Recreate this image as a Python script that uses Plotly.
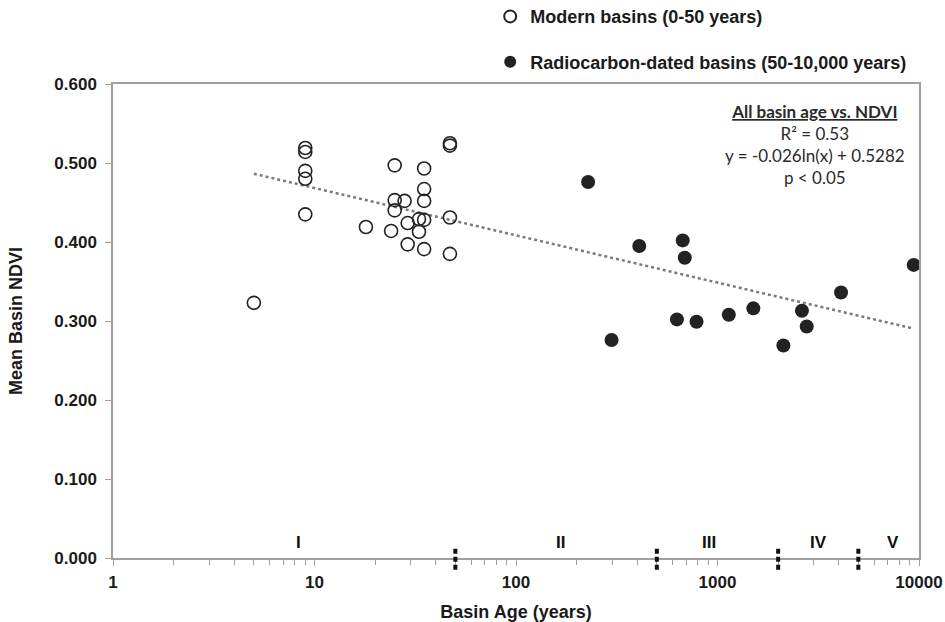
import numpy as np
import plotly.graph_objects as go

# Modern basins (0-50 years) - open circles
modern_age = [5, 9, 9, 9, 9, 9, 18, 25, 25, 25, 24, 28, 29, 29, 33, 33,
              35, 35, 35, 35, 35, 47, 47, 47, 47]
modern_ndvi = [0.323, 0.519, 0.514, 0.490, 0.480, 0.435, 0.419, 0.497, 0.453, 0.440,
               0.414, 0.452, 0.424, 0.397, 0.429, 0.413, 0.493, 0.467, 0.452, 0.428,
               0.391, 0.525, 0.522, 0.431, 0.385]

# Radiocarbon-dated basins (50-10,000 years) - filled circles
radio_age = [228, 298, 409, 629, 672, 688, 787, 1138, 1506, 2123, 2625, 2772, 4103, 9410]
radio_ndvi = [0.476, 0.276, 0.395, 0.302, 0.402, 0.380, 0.299, 0.308, 0.316, 0.269,
              0.313, 0.293, 0.336, 0.371]

# Logarithmic trendline from the displayed equation
trend_a = -0.026
trend_b = 0.5282

# Period boundaries and labels
boundaries = [50, 500, 2000, 5000]
period_labels = ["I", "II", "III", "IV", "V"]
period_label_x = [8.3, 167, 912, 3160, 7400]

x_major = [1, 10, 100, 1000, 10000]
minor_digits = [2, 3, 4, 5, 6, 7, 8, 9]
x_minor = [d * m for m in x_major[:-1] for d in minor_digits]

all_age = modern_age + radio_age
tx = np.logspace(np.log10(min(all_age)), np.log10(max(all_age)), 100)
ty = trend_a * np.log(tx) + trend_b

fig = go.Figure()
fig.add_trace(go.Scatter(
    x=tx, y=ty, mode="lines", showlegend=False,
    line=dict(color="#7a7a7a", width=2.5, dash="dot"), hoverinfo="skip"))
fig.add_trace(go.Scatter(
    x=modern_age, y=modern_ndvi, mode="markers", name="Modern basins (0-50 years)",
    legendgroup="a",
    marker=dict(symbol="circle-open", size=13, color="#222222", line=dict(width=1.6, color="#222222"))))
fig.add_trace(go.Scatter(
    x=radio_age, y=radio_ndvi, mode="markers", name="Radiocarbon-dated basins (50-10,000 years)",
    legendgroup="b",
    marker=dict(symbol="circle", size=14, color="#222222", line=dict(width=0))))

fam = "Liberation Sans, Arial, sans-serif"
title_font = dict(family=fam, size=18, color="#1a1a1a")
tick_font = dict(family=fam, size=17, color="#1a1a1a", weight="bold")

fig.update_xaxes(
    type="log", range=[0, 4], tickmode="array", tickvals=x_major,
    ticktext=[str(v) for v in x_major],
    showgrid=False, zeroline=False, showline=True, linecolor="#a0a0a0", linewidth=1.5,
    mirror=True, ticks="outside", ticklen=6, tickcolor="#a0a0a0", ticklabelstandoff=2,
    tickfont=tick_font,
    minor=dict(ticks="outside", ticklen=5, tickcolor="#a0a0a0", tickmode="array",
               tickvals=x_minor, showgrid=False),
    title=dict(text="<b>Basin Age (years)</b>", font=title_font, standoff=16),
)
fig.update_yaxes(
    range=[0, 0.6], dtick=0.1, tickformat=".3f",
    showgrid=False, zeroline=False, showline=True, linecolor="#a0a0a0", linewidth=1.5,
    mirror=True, ticks="outside", ticklen=6, tickcolor="#a0a0a0", ticklabelstandoff=5,
    tickfont=tick_font,
    title=dict(text="<b>Mean Basin NDVI</b>", font=title_font, standoff=27),
)

# dashed boundary markers
for b in boundaries:
    fig.add_shape(type="line", xref="x", yref="paper",
                  x0=b, x1=b, y0=-0.015 / 0.6, y1=0.013 / 0.6,
                  line=dict(color="#111111", width=4, dash="5px,3px"))

for lab, px in zip(period_labels, period_label_x):
    fig.add_annotation(x=np.log10(px), y=0.02, xref="x", yref="y", text=lab,
                       showarrow=False,
                       font=dict(family=fam, size=17, color="#111111", weight="bold"))

stats_font = dict(family="Lato, Open Sans, sans-serif", size=17, color="#2a2a2a")
stats_lines = ["<b><u>All basin age vs. NDVI</u></b>", "R² = 0.53",
               "y = -0.026ln(x) + 0.5282", "p < 0.05"]
fig.add_annotation(x=0.871, y=0.968, xref="paper", yref="paper", xanchor="center", yanchor="top",
                   text="<br>".join(stats_lines), showarrow=False, align="center",
                   font=stats_font)

fig.update_layout(
    width=945, height=622,
    margin=dict(l=113, r=26, t=84, b=64, autoexpand=False),
    paper_bgcolor="white", plot_bgcolor="white",
    legend=dict(x=0.468, y=1.181, xanchor="left", yanchor="top",
                font=dict(family=fam, size=18, color="#1a1a1a", weight="bold"),
                tracegroupgap=19, bgcolor="rgba(0,0,0,0)", itemsizing="constant"),
    showlegend=True,
)

fig.write_html("out.html")
